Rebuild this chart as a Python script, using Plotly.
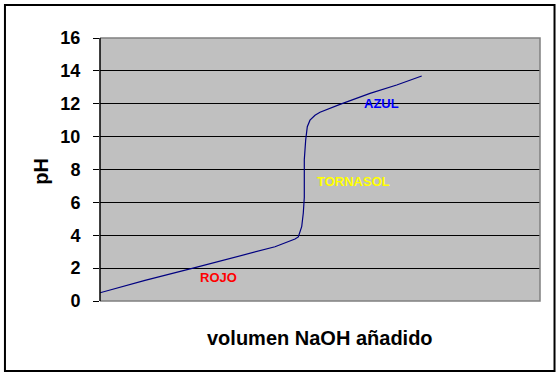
import plotly.graph_objects as go

# Titration curve data (volume in arbitrary units, pH)
volume = [0, 4.5, 9.5, 14.0, 17.5, 19.5, 19.83, 20.17, 20.33, 20.43, 20.43, 20.57,
          20.73, 21.0, 21.5, 22.0, 24.0, 27.0, 29.67, 32.17]
ph = [0.5, 1.25, 2.03, 2.75, 3.3, 3.77, 3.9, 4.52, 5.35, 6.3, 8.6, 9.8,
      10.6, 11.0, 11.3, 11.48, 11.96, 12.63, 13.14, 13.69]

labels = ["ROJO", "TORNASOL", "AZUL"]
label_x = [11.85, 25.3, 28.15]
label_y = [1.4, 7.3, 12.0]
label_colors = ["#FF0000", "#FFFF00", "#0000FF"]

y_ticks = [0, 2, 4, 6, 8, 10, 12, 14, 16]

FONT = "Liberation Sans, Arial, sans-serif"

fig = go.Figure()
fig.add_trace(go.Scatter(x=volume, y=ph, mode="lines",
                         line=dict(color="#000080", width=1.2),
                         hoverinfo="skip", showlegend=False))

for t, x, y, c in zip(labels, label_x, label_y, label_colors):
    fig.add_annotation(x=x, y=y, xref="x", yref="y", text="<b>%s</b>" % t,
                       showarrow=False, font=dict(family=FONT, size=13, color=c),
                       xanchor="center", yanchor="middle")

fig.add_annotation(x=0.5, y=-0.1407, xref="paper", yref="paper",
                   text="<b>volumen NaOH añadido</b>", showarrow=False,
                   font=dict(family=FONT, size=20, color="black"),
                   xanchor="center", yanchor="middle")
fig.add_annotation(x=-0.136, y=0.492, xref="paper", yref="paper",
                   text="<b>pH</b>", showarrow=False, textangle=-90,
                   font=dict(family=FONT, size=20, color="black"),
                   xanchor="center", yanchor="middle")

# gray plot-area border (top, right, bottom)
fig.add_shape(type="path", xref="paper", yref="paper",
              path="M 0 1 L 1 1 L 1 0 L 0 0", line=dict(color="#808080", width=1.5),
              layer="above")
# black left axis line drawn on top
fig.add_shape(type="line", xref="paper", yref="paper", x0=0, x1=0, y0=0, y1=1,
              line=dict(color="black", width=1.5), layer="above")
# outer black frame
fig.add_shape(type="rect", xref="paper", yref="paper",
              x0=-0.216, x1=1.033, y0=-0.2662, y1=1.1255,
              line=dict(color="black", width=2), layer="above")

fig.update_layout(
    width=560, height=377,
    margin=dict(l=100, r=20, t=38, b=76),
    paper_bgcolor="white", plot_bgcolor="#C0C0C0",
    xaxis=dict(range=[0, 44], showgrid=False, zeroline=False, showticklabels=False,
               ticks="", showline=False, fixedrange=True),
    yaxis=dict(range=[0, 16], tickvals=y_ticks, ticktext=["<b>%d</b>" % v for v in y_ticks],
               showgrid=True, gridcolor="black", gridwidth=1, zeroline=False,
               ticks="outside", ticklen=6, tickcolor="black", tickwidth=1,
               showline=False, ticklabelstandoff=9,
               tickfont=dict(family=FONT, size=18, color="black"), fixedrange=True),
)

fig.write_html("out.html")
